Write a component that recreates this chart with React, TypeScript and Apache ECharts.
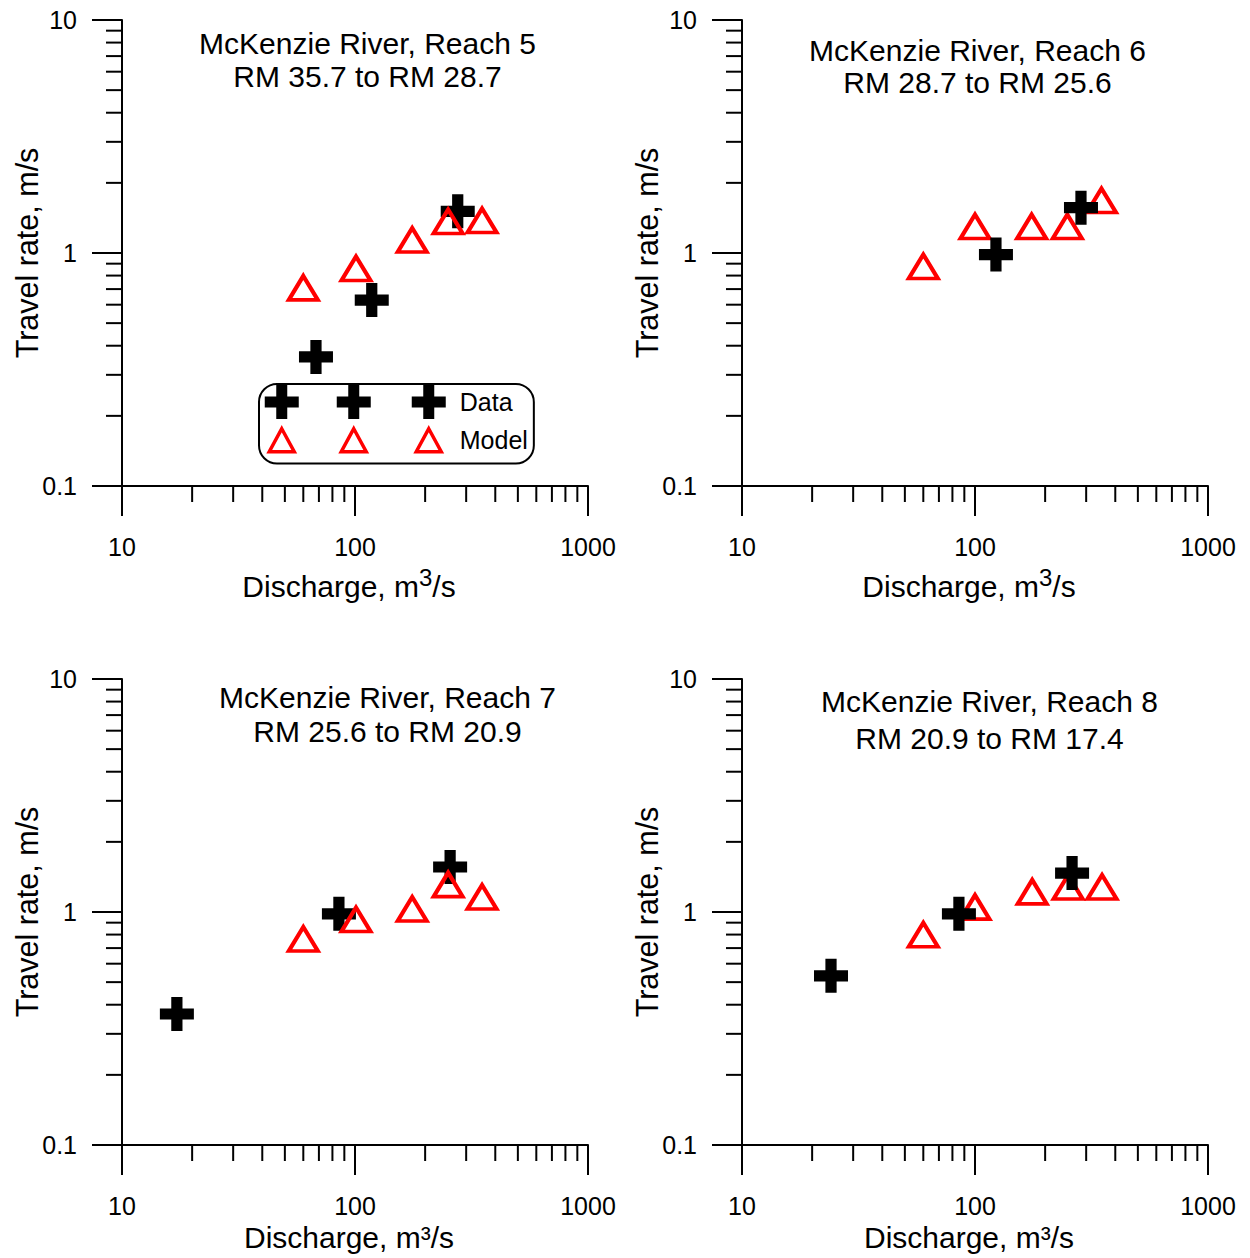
import React, { useEffect, useRef } from "react";
import * as echarts from "echarts";

const FONT = "'Liberation Sans', Arial, Helvetica, sans-serif";

// ---- Titles ----
const titleLine1 = [
  "McKenzie River, Reach 5",
  "McKenzie River, Reach 6",
  "McKenzie River, Reach 7",
  "McKenzie River, Reach 8",
];
const titleLine2 = [
  "RM 35.7 to RM 28.7",
  "RM 28.7 to RM 25.6",
  "RM 25.6 to RM 20.9",
  "RM 20.9 to RM 17.4",
];

// ---- Data (discharge m3/s, travel rate m/s) ----
const reach5DataQ = [68, 118, 276];
const reach5DataV = [0.358, 0.628, 1.51];
const reach5ModelQ = [60, 101, 176, 251, 351];
const reach5ModelV = [0.708, 0.858, 1.137, 1.365, 1.379];

const reach6DataQ = [123, 285];
const reach6DataV = [0.985, 1.565];
const reach6ModelQ = [60, 100, 175, 249, 349];
const reach6ModelV = [0.875, 1.3, 1.3, 1.3, 1.68];

const reach7DataQ = [17.2, 85.3, 256];
const reach7DataV = [0.365, 0.982, 1.56];
const reach7ModelQ = [60, 101, 176, 251, 351];
const reach7ModelV = [0.766, 0.929, 1.03, 1.31, 1.16];

const reach8DataQ = [24.1, 85.3, 261];
const reach8DataV = [0.532, 0.982, 1.47];
const reach8ModelQ = [60, 100, 176, 251, 351];
const reach8ModelV = [0.799, 1.05, 1.22, 1.28, 1.28];

// ---- Axes ----
const xRange = [10, 1000];
const yRange = [0.1, 10];
const xMinorTicks = [20, 30, 40, 50, 60, 70, 80, 90, 200, 300, 400, 500, 600, 700, 800, 900];
const yMinorTicks = [0.2, 0.3, 0.4, 0.5, 0.6, 0.7, 0.8, 0.9, 2, 3, 4, 5, 6, 7, 8, 9];
const xAxisName = "Discharge, m";
const xAxisUnitSup = "3";
const xAxisUnitTail = "/s";
const xAxisNameSmall = "Discharge, m\u00b3/s";
const yAxisName = "Travel rate, m/s";

const zip = (a: number[], b: number[]) => a.map((v, i) => [v, b[i]]);

const panels = [
  { dq: reach5DataQ, dv: reach5DataV, mq: reach5ModelQ, mv: reach5ModelV, modelOnTop: true, bigSup: true,
    left: 122, top: 20, tx: 367.5, ty: 27, lh: 33 },
  { dq: reach6DataQ, dv: reach6DataV, mq: reach6ModelQ, mv: reach6ModelV, modelOnTop: false, bigSup: true,
    left: 742, top: 20, tx: 977.5, ty: 34, lh: 32 },
  { dq: reach7DataQ, dv: reach7DataV, mq: reach7ModelQ, mv: reach7ModelV, modelOnTop: true, bigSup: false,
    left: 122, top: 679, tx: 387.5, ty: 680, lh: 34 },
  { dq: reach8DataQ, dv: reach8DataV, mq: reach8ModelQ, mv: reach8ModelV, modelOnTop: false, bigSup: false,
    left: 742, top: 679, tx: 989.5, ty: 683, lh: 37 },
];

const CROSS = "path://M33.5,0H66.5V33.5H100V66.5H66.5V100H33.5V66.5H0V33.5H33.5Z";

const legendCenters = [17, 89, 164];
const legendCross =
  "path://" +
  legendCenters
    .map(
      (c) =>
        `M${c - 5.5},0H${c + 5.5}V11.5H${c + 17}V22.5H${c + 5.5}V34H${c - 5.5}V22.5H${c - 17}V11.5H${c - 5.5}Z`
    )
    .join("");
const legendTri =
  "path://M0,0M181,34" +
  legendCenters.map((c) => `M${c},6L${c + 12.5},29L${c - 12.5},29Z`).join("");

const blackLine = { color: "#000", width: 2 };
const fmt = (v: number) => `${Number(Number(v).toPrecision(4))}`;

function buildOption() {
  const grid: any[] = [];
  const xAxis: any[] = [];
  const yAxis: any[] = [];
  const series: any[] = [];
  const title: any[] = [];

  panels.forEach((p, i) => {
    grid.push({
      left: p.left, top: p.top, width: 466, height: 466,
      containLabel: false, outerBoundsMode: "none",
    });
    xAxis.push({
      type: "log", logBase: 10, gridIndex: i, min: xRange[0], max: xRange[1],
      name: p.bigSup ? `{a|${xAxisName}}{b|${xAxisUnitSup}}{a|${xAxisUnitTail}}` : xAxisNameSmall,
      nameLocation: "middle",
      nameGap: p.bigSup ? 79 : 77,
      nameMoveOverlap: false,
      nameTextStyle: {
        fontSize: 30, color: "#000", fontFamily: FONT, padding: [0, 12, 0, 0],
        rich: {
          a: { fontSize: 30, lineHeight: 36, color: "#000", fontFamily: FONT, verticalAlign: "bottom" },
          b: { fontSize: 24, lineHeight: 24, color: "#000", fontFamily: FONT, verticalAlign: "top" },
        },
      },
      axisLine: { show: true, onZero: false, lineStyle: blackLine },
      axisTick: { show: true, inside: false, length: 30, lineStyle: blackLine },
      minorTick: { show: false },
      splitLine: { show: false },
      minorSplitLine: { show: false },
      axisLabel: { margin: 48, fontSize: 25, color: "#000", fontFamily: FONT, formatter: fmt },
    });
    yAxis.push({
      type: "log", logBase: 10, gridIndex: i, min: yRange[0], max: yRange[1],
      name: yAxisName, nameLocation: "middle", nameGap: 80, nameMoveOverlap: false,
      nameTextStyle: { fontSize: 30.5, color: "#000", fontFamily: FONT },
      axisLine: { show: true, onZero: false, lineStyle: blackLine },
      axisTick: { show: true, inside: false, length: 30, lineStyle: blackLine },
      minorTick: { show: false },
      splitLine: { show: false },
      minorSplitLine: { show: false },
      axisLabel: { margin: 45, fontSize: 25, color: "#000", fontFamily: FONT, formatter: fmt },
    });
    title.push({
      text: `${titleLine1[i]}\n${titleLine2[i]}`,
      left: p.tx, top: p.ty, textAlign: "center", padding: 0,
      textStyle: { fontSize: 30, fontWeight: "normal", color: "#000", fontFamily: FONT, lineHeight: p.lh },
    });

    // minor ticks (drawn through the axes' own log scales)
    series.push({
      type: "custom", xAxisIndex: i, yAxisIndex: i, silent: true, clip: false, z: 3,
      data: xMinorTicks.map((v) => [v, yRange[0]]),
      renderItem: (_params: any, api: any) => {
        const pt = api.coord([api.value(0), api.value(1)]);
        return {
          type: "line",
          shape: { x1: pt[0], y1: pt[1], x2: pt[0], y2: pt[1] + 16 },
          style: { stroke: "#000", lineWidth: 2 },
        };
      },
    });
    series.push({
      type: "custom", xAxisIndex: i, yAxisIndex: i, silent: true, clip: false, z: 3,
      data: yMinorTicks.map((v) => [xRange[0], v]),
      renderItem: (_params: any, api: any) => {
        const pt = api.coord([api.value(0), api.value(1)]);
        return {
          type: "line",
          shape: { x1: pt[0] - 16, y1: pt[1], x2: pt[0], y2: pt[1] },
          style: { stroke: "#000", lineWidth: 2 },
        };
      },
    });

    const dataSeries = {
      name: "Data", type: "scatter", xAxisIndex: i, yAxisIndex: i, clip: false,
      symbol: CROSS, symbolSize: 34,
      itemStyle: { color: "#000", opacity: 1 },
      emphasis: { disabled: true },
      data: zip(p.dq, p.dv),
    };
    const modelSeries = {
      name: "Model", type: "scatter", xAxisIndex: i, yAxisIndex: i, clip: false,
      symbol: "triangle", symbolSize: [29, 24],
      itemStyle: { color: "rgba(0,0,0,0)", borderColor: "#ff0000", borderWidth: 4, opacity: 1 },
      emphasis: { disabled: true },
      data: zip(p.mq, p.mv),
    };
    if (p.modelOnTop) series.push(dataSeries, modelSeries);
    else series.push(modelSeries, dataSeries);
  });

  return {
    animation: false,
    backgroundColor: "#fff",
    textStyle: { fontFamily: FONT },
    title,
    grid,
    xAxis,
    yAxis,
    legend: {
      show: true, orient: "vertical", left: 259, top: 384,
      padding: [1, 6, 5, 4], itemGap: 2, itemWidth: 181, itemHeight: 34,
      borderColor: "#000", borderWidth: 2, borderRadius: 18,
      selectedMode: false,
      textStyle: { fontSize: 25, color: "#000", fontFamily: FONT, padding: [0, 0, 0, 9] },
      data: [
        { name: "Data", icon: legendCross, itemStyle: { color: "#000", borderWidth: 0 } },
        { name: "Model", icon: legendTri, itemStyle: { color: "rgba(0,0,0,0)", borderColor: "#ff0000", borderWidth: 3.5 } },
      ],
    },
    series,
  };
}

export default function App() {
  const ref = useRef<HTMLDivElement>(null);
  useEffect(() => {
    if (!ref.current) return;
    const chart = echarts.init(ref.current, null, { renderer: "svg" });
    chart.setOption(buildOption() as any);
    return () => chart.dispose();
  }, []);
  return (
    <div
      ref={ref}
      style={{ position: "fixed", left: 0, top: 0, width: 1250, height: 1258, background: "#fff" }}
    />
  );
}
